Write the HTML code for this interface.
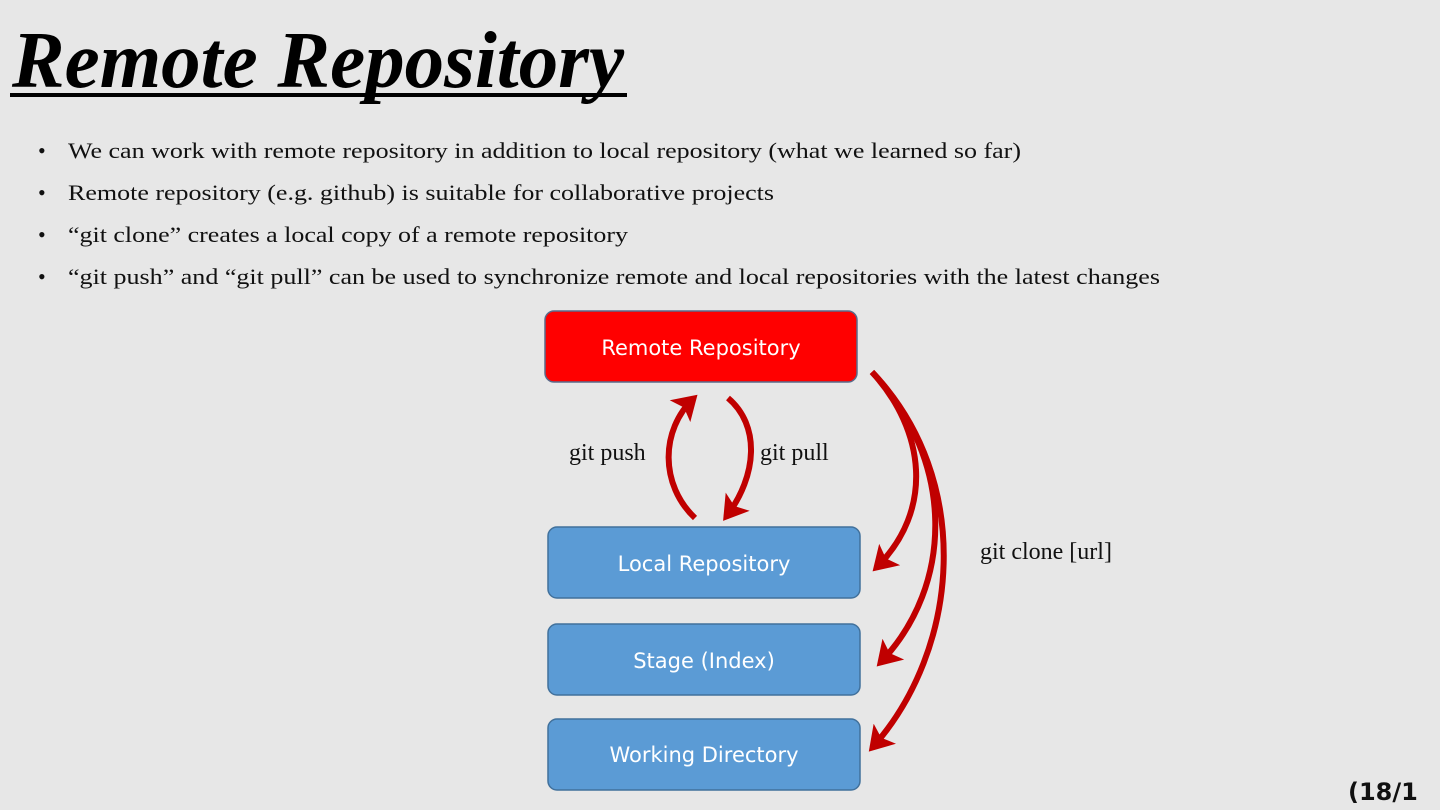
<!DOCTYPE html>
<html><head><meta charset="utf-8"><style>
html,body{margin:0;padding:0;background:#e7e7e7;}
svg{display:block;}
</style></head><body>
<svg width="1440" height="810" viewBox="0 0 1440 810" xmlns="http://www.w3.org/2000/svg">
<defs>
<marker id="ah" markerWidth="5" markerHeight="5" refX="3.2" refY="2.5" orient="auto" markerUnits="strokeWidth">
<path d="M0,0 L4,2.5 L0,5 L0.9,2.5 z" fill="#c00000"/>
</marker>
</defs>
<rect width="1440" height="810" fill="#e7e7e7"/>
<text x="12" y="87" font-family="Liberation Serif" font-weight="bold" font-style="italic" font-size="80" textLength="612" lengthAdjust="spacingAndGlyphs">Remote Repository</text>
<rect x="10" y="93" width="617" height="4" fill="#000"/>
<g font-family="Liberation Serif" font-size="22" fill="#111">
<text x="38" y="158">•</text><text x="68" y="158" textLength="953" lengthAdjust="spacingAndGlyphs">We can work with remote repository in addition to local repository (what we learned so far)</text>
<text x="38" y="200">•</text><text x="68" y="200" textLength="706" lengthAdjust="spacingAndGlyphs">Remote repository (e.g. github) is suitable for collaborative projects</text>
<text x="38" y="242">•</text><text x="68" y="242" textLength="560" lengthAdjust="spacingAndGlyphs">“git clone” creates a local copy of a remote repository</text>
<text x="38" y="284">•</text><text x="68" y="284" textLength="1092" lengthAdjust="spacingAndGlyphs">“git push” and “git pull” can be used to synchronize remote and local repositories with the latest changes</text>
</g>
<g stroke="#41719c" stroke-width="1.5">
<rect x="545" y="311" width="312" height="71" rx="9" fill="#ff0000" stroke="#5a6a8a"/>
<rect x="548" y="527" width="312" height="71" rx="9" fill="#5b9bd5"/>
<rect x="548" y="624" width="312" height="71" rx="9" fill="#5b9bd5"/>
<rect x="548" y="719" width="312" height="71" rx="9" fill="#5b9bd5"/>
</g>
<g font-family="DejaVu Sans" font-size="21" fill="#fff" text-anchor="middle">
<text x="701" y="355">Remote Repository</text>
<text x="704" y="571">Local Repository</text>
<text x="704" y="668">Stage (Index)</text>
<text x="704" y="762">Working Directory</text>
</g>
<g font-family="Liberation Serif" font-size="24" fill="#111">
<text x="569" y="460">git push</text>
<text x="760" y="460">git pull</text>
<text x="980" y="559">git clone [url]</text>
</g>
<g fill="none" stroke="#c00000" stroke-width="6" stroke-linecap="butt" marker-end="url(#ah)">
<path d="M695,518 C660,485 660,430 694,398"/>
<path d="M728,398 C760,425 758,475 726,517"/>
<path d="M872,372 C925,430 935,510 876,568"/>
<path d="M872,372 C955,460 955,585 880,663"/>
<path d="M872,372 C975,480 960,650 872,748"/>
</g>
<text x="1348" y="800" font-family="DejaVu Sans" font-weight="bold" font-size="24" fill="#111">(18/1</text>
</svg>
</body></html>
